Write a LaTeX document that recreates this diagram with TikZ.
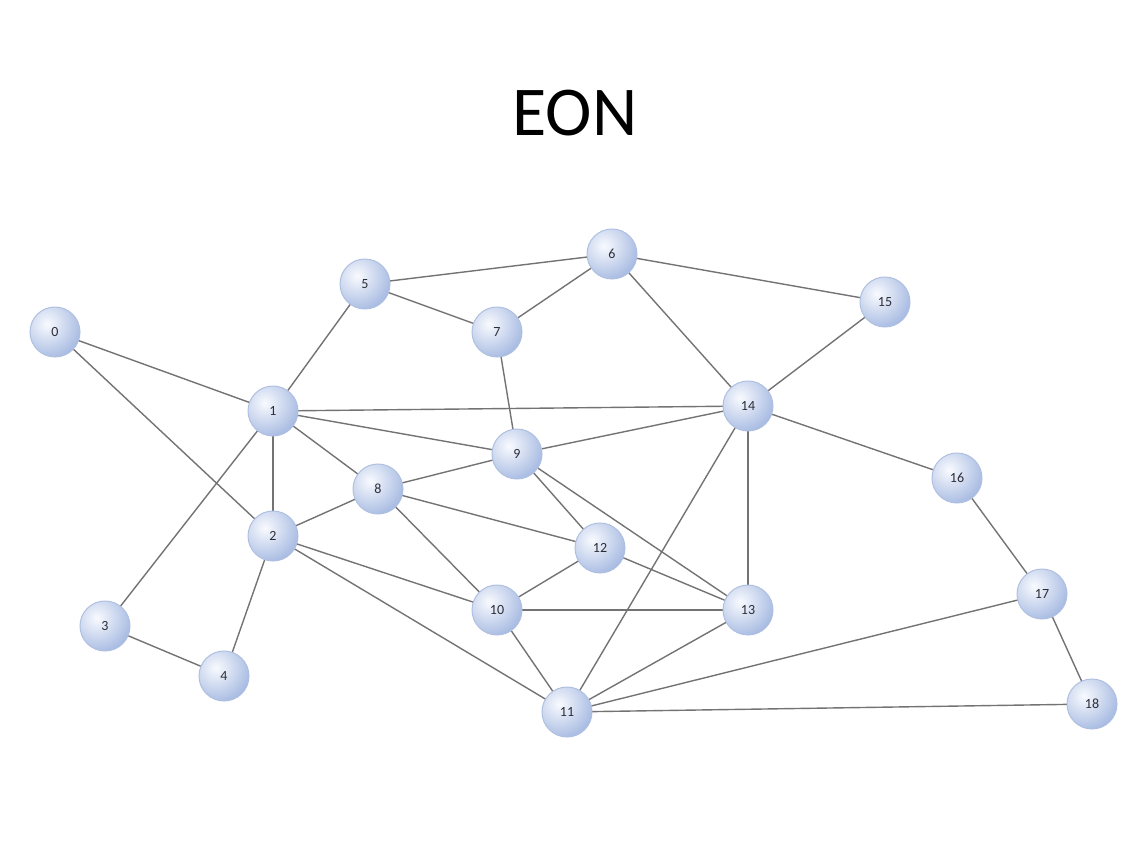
\documentclass[tikz,border=0pt]{standalone}
\usepackage{fontspec}
\setmainfont{Carlito}
\definecolor{nodeedge}{RGB}{175,192,225}
\definecolor{nodelight}{RGB}{248,250,254}
\definecolor{nodedark}{RGB}{165,185,225}
\definecolor{nodetext}{RGB}{45,45,55}
\definecolor{linkgray}{RGB}{115,115,115}
\begin{document}
\begin{tikzpicture}[x=1pt,y=-1pt,
  vnode/.style={circle,minimum size=50pt,inner sep=0pt,
    draw=nodeedge,line width=1pt,fill=nodedark,
    path picture={\shade[inner color=nodelight,outer color=nodedark]
      ([shift={(-8,-8)}]path picture bounding box.center) circle (36pt);},
    font=\fontsize{14}{14}\selectfont, text=nodetext},
  link/.style={draw=linkgray,line width=1.4pt}]
\useasboundingbox (0,0) rectangle (1148,862);
\node[font=\fontsize{70}{70}\selectfont] (title) at (575,113) {EON};
\foreach \n/\x/\y in {0/55/332,1/273/411,2/273/536,3/105/626,4/224/676,5/365/284,6/612/254,7/497/332,8/378/489,9/517/454,10/497/610,11/567/712,12/600/548,13/748/610,14/748/406,15/885/302,16/957/478,17/1042/594,18/1092/704}
  \coordinate (c\n) at (\x,\y);
\foreach \a/\b in {0/1,0/2,1/5,1/14,1/9,1/8,1/2,1/3,2/8,2/4,2/10,2/11,3/4,5/6,5/7,6/7,6/15,6/14,7/9,9/14,8/9,8/12,8/10,9/12,9/13,12/10,12/13,10/13,10/11,11/13,11/14,14/13,14/15,14/16,16/17,17/11,17/18,18/11}
  \draw[link] (c\a) -- (c\b);
\foreach \n in {0,...,18}
  \node[vnode] (n\n) at (c\n) {\n};
\end{tikzpicture}
\end{document}
